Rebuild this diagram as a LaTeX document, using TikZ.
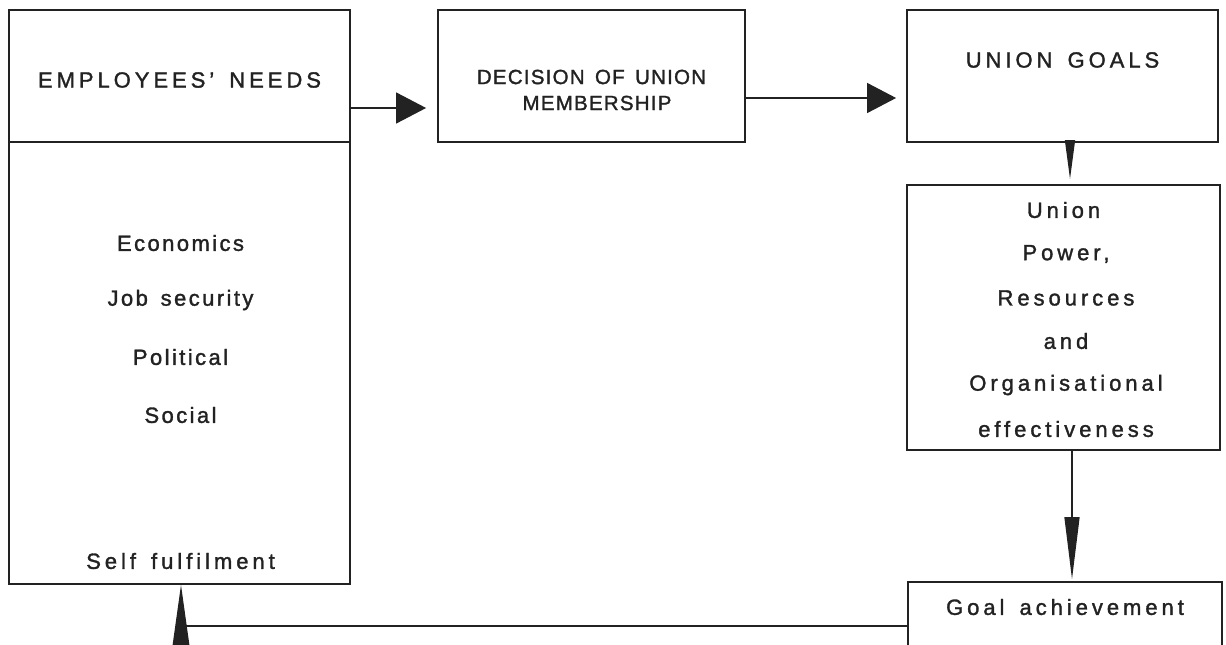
\documentclass[tikz,border=0pt]{standalone}
\usepackage{fontspec}
\newfontfamily\tfont{Liberation Sans}[LetterSpace=18, WordSpace=1.5, FakeBold=1.5]
\newfontfamily\lfont{Liberation Sans}[LetterSpace=11, WordSpace=1.5, FakeBold=1.5]
\newfontfamily\dfont{Liberation Sans}[LetterSpace=6, WordSpace=1.5, FakeBold=1.5]
\usetikzlibrary{arrows.meta}
\definecolor{ink}{HTML}{222222}
\tikzset{
  boxs/.style={draw=ink, line width=1.8pt, rectangle, inner sep=0pt},
  txt/.style={text=ink, font=\tfont\fontsize{22}{26}\selectfont, inner sep=0pt, anchor=center},
  ltxt/.style={text=ink, font=\lfont\fontsize{22}{26}\selectfont, inner sep=0pt, anchor=center},
  dtxt/.style={text=ink, font=\dfont\fontsize{20.5}{24}\selectfont, inner sep=0pt, anchor=center},
  conn/.style={draw=ink, line width=1.3pt},
}
\begin{document}
\begin{tikzpicture}[x=1pt,y=-1pt]
\useasboundingbox (0,0) rectangle (1226,645);
% boxes
\node[boxs, minimum width=341pt, minimum height=132pt] (needs) at (179.5,76) {};
\node[boxs, minimum width=341pt, minimum height=442pt] (needsbody) at (179.5,363) {};
\node[boxs, minimum width=307pt, minimum height=132pt] (decision) at (591.5,76) {};
\node[boxs, minimum width=311pt, minimum height=132pt] (goals) at (1062.5,76) {};
\node[boxs, minimum width=313pt, minimum height=265pt] (power) at (1063.5,317.5) {};
\node[boxs, minimum width=314pt, minimum height=90pt] (achieve) at (1065,627) {};
% texts
\node[txt] (tneeds) at (179.5,80) {EMPLOYEES’ NEEDS};
\node[ltxt] (t1) at (180.5,243) {Economics};
\node[ltxt] (t2) at (180.5,300) {Job security};
\node[ltxt] (t3) at (180.5,357) {Political};
\node[ltxt] (t4) at (180.5,415) {Social};
\node[txt] (t5) at (180.5,561) {Self fulfilment};
\node[dtxt] (tdec1) at (591.5,77) {DECISION OF UNION};
\node[dtxt] (tdec2) at (597,103) {MEMBERSHIP};
\node[txt] (tgoals) at (1062.5,60) {UNION GOALS};
\node[txt] (p1) at (1063.5,210) {Union};
\node[txt] (p2) at (1066,254) {Power,};
\node[txt] (p3) at (1066,298) {Resources};
\node[txt] (p4) at (1066,341) {and};
\node[txt] (p5) at (1066,385) {Organisational};
\node[txt] (p6) at (1066,429) {effectiveness};
\node[txt] (tach) at (1065,607) {Goal achievement};
% connectors
\coordinate (c1) at (needs.east |- 0,108);
\coordinate (c2) at (decision.west |- 0,108);
\draw[conn, -{Triangle[length=30pt,width=31pt]}, shorten >=11pt] (c1) -- (c2);
\coordinate (d1) at (decision.east |- 0,98);
\coordinate (d2) at (goals.west |- 0,98);
\draw[conn, -{Triangle[length=29pt,width=30pt]}, shorten >=10pt] (d1) -- (d2);
\coordinate (g1) at (1070,0);
\draw[conn, -{Triangle[length=39pt,width=10pt]}, shorten >=5pt] (g1 |- goals.south) -- (g1 |- power.north);
\coordinate (h1) at (1072,0);
\draw[conn, -{Triangle[length=62pt,width=15pt]}, shorten >=2pt] (h1 |- power.south) -- (h1 |- achieve.north);
\coordinate (k1) at (achieve.west |- 0,626);
\coordinate (k2) at (181,626);
\draw[conn, -{Triangle[length=62pt,width=17pt]}] (k1) -- (k2) -- (k2 |- needsbody.south);
\end{tikzpicture}
\end{document}
